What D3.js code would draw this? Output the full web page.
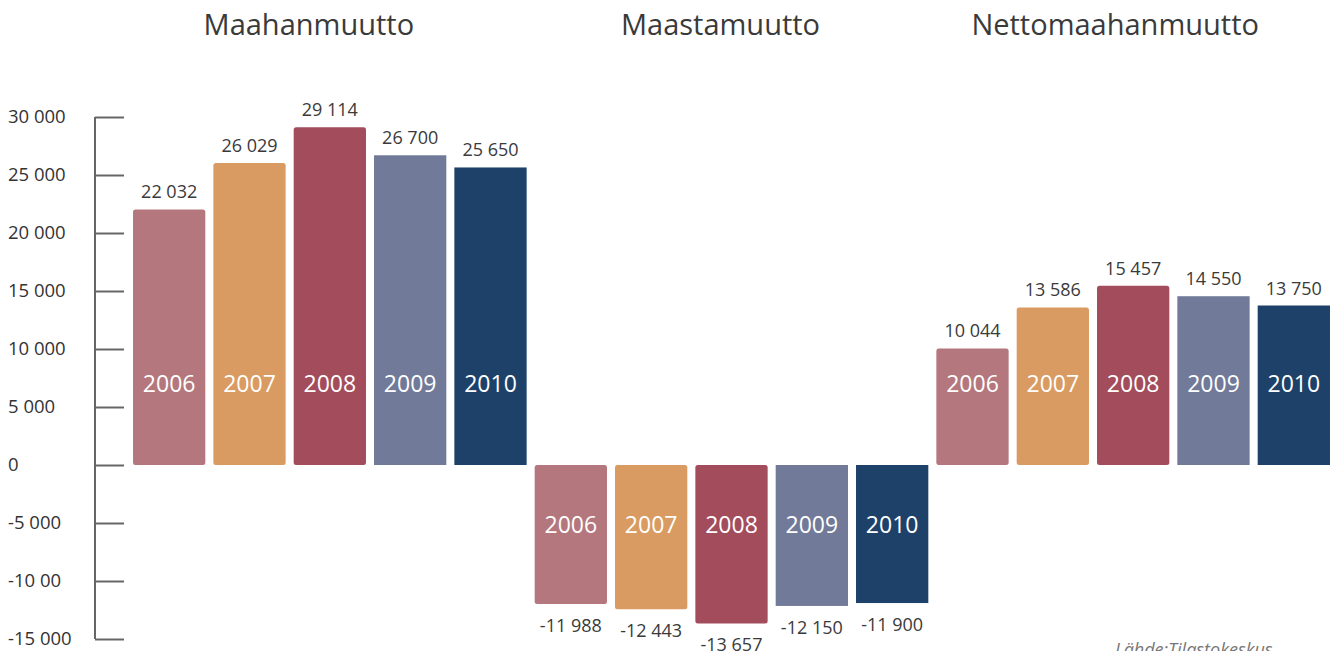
<!DOCTYPE html>
<html>
<head>
<meta charset="utf-8">
<script src="https://cdn.jsdelivr.net/npm/d3@7"></script>
<style>
  body { margin: 0; background: #fff; }
  svg { display: block; font-family: "Open Sans", "Noto Sans", sans-serif; }
</style>
</head>
<body>
<svg id="chart" width="1339" height="651"></svg>
<script>
const groups = ['Maahanmuutto', 'Maastamuutto', 'Nettomaahanmuutto']
const years = ['2006', '2007', '2008', '2009', '2010']
const maahanmuutto = [22032, 26029, 29114, 26700, 25650]
const maastamuutto = [-11988, -12443, -13657, -12150, -11900]
const nettomaahanmuutto = [10044, 13586, 15457, 14550, 13750]
const tickValues = [30000, 25000, 20000, 15000, 10000, 5000, 0, -5000, -10000, -15000]
const tickLabels = ['30 000', '25 000', '20 000', '15 000', '10 000', '5 000', '0', '-5 000', '-10 00', '-15 000']
const yearColors = ['#b4777d', '#d99b61', '#a34c5c', '#717a98', '#1e4169']
const source = 'Lähde:Tilastokeskus'

const series = [maahanmuutto, maastamuutto, nettomaahanmuutto]

const svg = d3.select('#chart')

const fmt = d3.formatLocale({ decimal: ',', thousands: ' ', grouping: [3], currency: ['', ''], minus: '-' }).format(',d')

const y = d3.scaleLinear().domain([-15000, 30000]).range([639, 117])

const x0 = d3.scaleBand().domain(groups).range([129, 1334])
const x1 = d3.scaleBand().domain(years).range([0, x0.bandwidth()])
    .paddingInner(0.1).paddingOuter(0.05)

// axis (ticks point right, labels drawn separately on the far left)
const axis = svg.append('g')
    .attr('transform', 'translate(95,0)')
    .call(d3.axisRight(y).tickValues(tickValues).tickSize(29).tickFormat(''))
axis.selectAll('path, line').attr('stroke', '#666').attr('stroke-width', 2)
axis.select('.domain').attr('d', `M0,${y(30000)}V${y(-15000)}`)

svg.append('g')
    .selectAll('text')
    .data(tickValues)
    .join('text')
    .attr('x', 8)
    .attr('y', d => y(d))
    .attr('dy', '0.35em')
    .attr('font-size', 18.5)
    .attr('fill', '#333')
    .text((d, i) => tickLabels[i])

// titles
svg.append('g')
    .selectAll('text')
    .data(groups)
    .join('text')
    .attr('x', (d, i) => x0(d) + x0.bandwidth() / 2 - [21, 11, 18][i])
    .attr('y', 35)
    .attr('text-anchor', 'middle')
    .attr('font-size', 29)
    .attr('fill', '#3a3a3a')
    .text(d => d)

// bars
const group = svg.append('g')
    .selectAll('g')
    .data(groups)
    .join('g')
    .attr('transform', d => `translate(${x0(d)},0)`)

const bar = group.selectAll('g')
    .data((g, gi) => years.map((yr, i) => ({ year: yr, value: series[gi][i], i })))
    .join('g')
    .attr('transform', d => `translate(${x1(d.year)},0)`)

bar.append('rect')
    .attr('y', d => y(Math.max(0, d.value)))
    .attr('width', x1.bandwidth())
    .attr('height', d => Math.abs(y(d.value) - y(0)))
    .attr('rx', d => d.i < 3 ? 2.5 : 0)
    .attr('fill', d => yearColors[d.i])

// year inside bar
bar.append('text')
    .attr('x', x1.bandwidth() / 2)
    .attr('y', d => d.value > 0 ? y(7000) : y(-5150))
    .attr('dy', '0.35em')
    .attr('text-anchor', 'middle')
    .attr('font-size', 23)
    .attr('fill', '#fff')
    .text(d => d.year)

// value labels
bar.append('text')
    .attr('x', x1.bandwidth() / 2)
    .attr('y', d => d.value > 0 ? y(d.value) - 11 : y(d.value) + 28)
    .attr('text-anchor', 'middle')
    .attr('font-size', 18)
    .attr('fill', '#3a3a3a')
    .text(d => fmt(d.value))

svg.append('text')
    .attr('x', 1115)
    .attr('y', 656)
    .attr('font-size', 18)
    .attr('font-style', 'italic')
    .attr('fill', '#777')
    .text(source)
</script>
</body>
</html>
